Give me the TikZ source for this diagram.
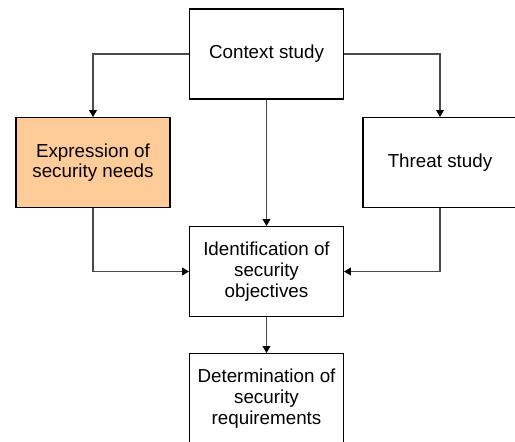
\documentclass[tikz,border=0pt]{standalone}
\usepackage{fontspec}
\setmainfont{Liberation Sans}
\usetikzlibrary{arrows.meta,positioning}
\definecolor{needcol}{HTML}{FFCC99}
\definecolor{linkcol}{HTML}{4A4A4A}

\begin{document}
\begin{tikzpicture}[x=0.5pt,y=-0.5pt,>={Triangle[length=3.4pt,width=3.9pt,color=black]},
  stepbox/.style={draw=black,line width=0.55pt,fill=white,minimum width=77pt,minimum height=45pt,
    inner sep=0pt,align=center,font=\fontsize{9.4}{10.35}\selectfont},
  link/.style={->,draw=linkcol,line width=0.55pt}]
  \useasboundingbox (0,0) rectangle (515,441);
  % the five study steps
  \node[stepbox] (context) at (266.5,54) {Context study};
  \node[stepbox,fill=needcol] (needs) at (93,162.5) {Expression of\\security needs};
  \node[stepbox] (threat) at (440,162.5) {Threat study};
  \node[stepbox] (objectives) at (266.5,271.5) {Identification of\\security\\objectives};
  \node[stepbox] (requirements) at (266.5,398.5) {Determination of\\security\\requirements};
  % flow between the steps
  \draw[link] (context.west) -| (needs.north);
  \draw[link] (context.east) -| (threat.north);
  \draw[link] (context.south) -- (objectives.north);
  \draw[link] (needs.south) |- (objectives.west);
  \draw[link] (threat.south) |- (objectives.east);
  \draw[link] (objectives.south) -- (requirements.north);
\end{tikzpicture}
\end{document}
